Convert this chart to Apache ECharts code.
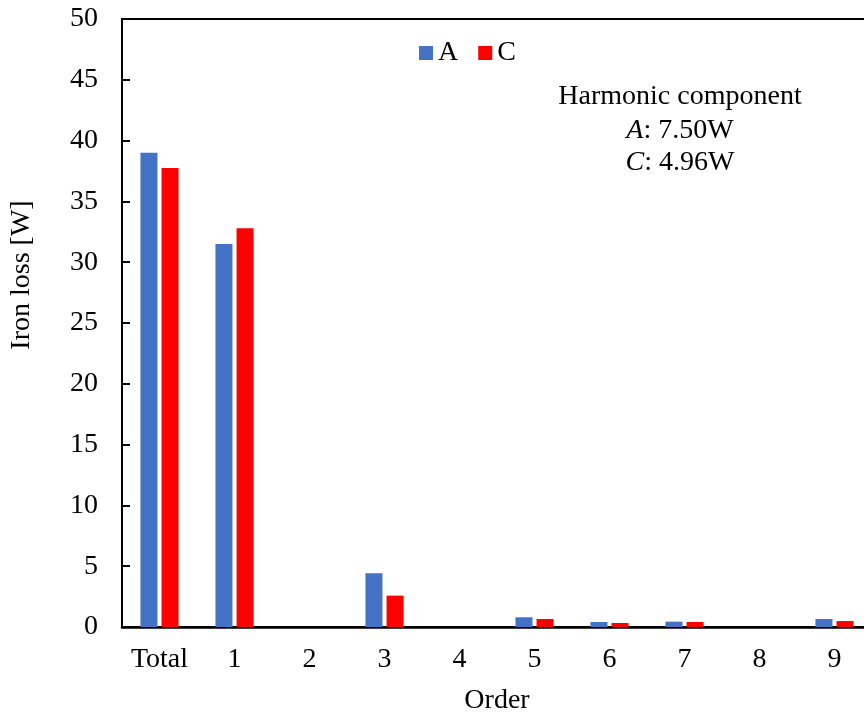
<!DOCTYPE html>
<html>
<head>
<meta charset="utf-8">
<script src="https://cdn.jsdelivr.net/npm/echarts@6/dist/echarts.min.js"></script>
<style>html,body{margin:0;padding:0;background:#fff;}#c{width:864px;height:713px;}</style>
</head>
<body>
<div id="c"></div>
<script>
var categories = ['Total', '1', '2', '3', '4', '5', '6', '7', '8', '9'];
var seriesA = [39.0, 31.5, 0, 4.42, 0, 0.80, 0.41, 0.44, 0, 0.66];
var seriesC = [37.75, 32.8, 0, 2.58, 0, 0.66, 0.33, 0.41, 0, 0.49];
var yTicks = { min: 0, max: 50, interval: 5 };
var FONT = '"Liberation Serif", "Times New Roman", serif';
var FS = 28;

var chart = echarts.init(document.getElementById('c'));
chart.setOption({
  animation: false,
  backgroundColor: '#fff',
  textStyle: { fontFamily: FONT, color: '#000' },
  grid: { left: 122, top: 19, width: 750, height: 608, show: true, borderColor: '#000', borderWidth: 2, containLabel: false, outerBoundsMode: 'none' },
  legend: {
    left: 414, top: 34,
    itemWidth: 14, itemHeight: 14, itemGap: 20,
    icon: 'rect',
    textStyle: { fontFamily: FONT, fontSize: FS, color: '#000', padding: [0, 0, 0, 0] },
    data: ['A', 'C']
  },
  xAxis: {
    type: 'category',
    data: categories,
    name: 'Order',
    nameLocation: 'middle',
    nameGap: 60,
    nameTextStyle: { fontFamily: FONT, fontSize: FS, color: '#000' },
    axisLine: { lineStyle: { color: '#000', width: 2.5 } },
    axisTick: { show: false },
    axisLabel: { fontFamily: FONT, fontSize: FS, color: '#000', margin: 19 },
    splitLine: { show: false }
  },
  yAxis: {
    type: 'value',
    min: yTicks.min, max: yTicks.max, interval: yTicks.interval,
    name: 'Iron loss [W]',
    nameLocation: 'middle',
    nameGap: 86,
    nameTextStyle: { fontFamily: FONT, fontSize: FS, color: '#000', padding: [0, 0, 0, 96] },
    axisLine: { show: true, lineStyle: { color: '#000', width: 2 } },
    axisTick: { show: true, inside: true, length: 8, lineStyle: { color: '#000', width: 2 } },
    axisLabel: { fontFamily: FONT, fontSize: FS, color: '#000', margin: 24 },
    splitLine: { show: false }
  },
  series: [
    { name: 'A', type: 'bar', data: seriesA, barWidth: 17, barGap: '24%', itemStyle: { color: '#4472C4' } },
    { name: 'C', type: 'bar', data: seriesC, barWidth: 17, barGap: '24%', itemStyle: { color: '#FF0000' } }
  ],
  graphic: [
    { type: 'text', position: [680, 97], style: { text: 'Harmonic component', font: FS + 'px ' + FONT, fill: '#000', textAlign: 'center', textVerticalAlign: 'middle' } },
    { type: 'text', position: [680, 131], style: { text: '{i|A}: 7.50W', font: FS + 'px ' + FONT, fill: '#000', textAlign: 'center', textVerticalAlign: 'middle', rich: { i: { fontStyle: 'italic', fontFamily: FONT, fontSize: FS } } } },
    { type: 'text', position: [680, 163], style: { text: '{i|C}: 4.96W', font: FS + 'px ' + FONT, fill: '#000', textAlign: 'center', textVerticalAlign: 'middle', rich: { i: { fontStyle: 'italic', fontFamily: FONT, fontSize: FS } } } }
  ]
});
</script>
</body>
</html>
